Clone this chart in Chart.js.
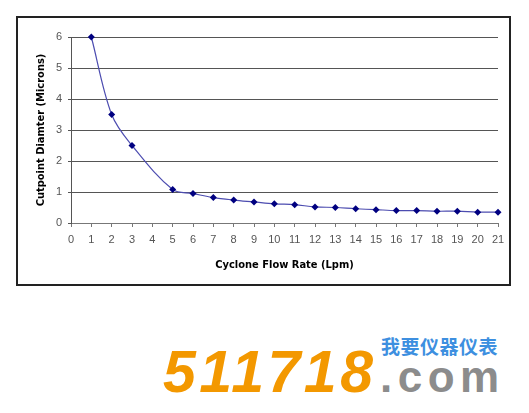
<!DOCTYPE html>
<html>
<head>
<meta charset="utf-8">
<script src="https://cdn.jsdelivr.net/npm/chart.js@4/dist/chart.umd.min.js"></script>
<style>
    html, body { margin: 0; padding: 0; background: #fff; }
    body { width: 529px; height: 413px; position: relative; overflow: hidden; }
    #frame {
        position: absolute; left: 16px; top: 16px;
        width: 491px; height: 266px;
        border: 2px solid #222;
    }
    #chartWrap { position: absolute; left: 0; top: 0; width: 529px; height: 300px; }
    .mark { position: absolute; white-space: nowrap; line-height: 1; }
    #num {
        left: 163px; top: 338px;
        font: italic bold 59px "Liberation Sans", Arial, sans-serif;
        color: #f39800; letter-spacing: 3.5px;
    }
    #dotcom {
        left: 380px; top: 352px;
        font: bold 44px "Liberation Sans", Arial, sans-serif;
        color: #8c8c8c; letter-spacing: 5.5px;
    }
    #cn {
        left: 381px; top: 332px;
        font: bold 19px "Noto Sans CJK SC", sans-serif;
        color: #3d8fe0; letter-spacing: 0.5px;
    }
</style>
</head>
<body>
<div id="frame"></div>
<div id="chartWrap"><canvas id="cutpointChart" width="529" height="300"></canvas></div>
<div class="mark" id="num">511718</div>
<div class="mark" id="cn">我要仪器仪表</div>
<div class="mark" id="dotcom">.com</div>
<script>
    // Flow rate (Lpm) and cutpoint diameter (microns)
    const flowRates = [1, 2, 3, 5, 6, 7, 8, 9, 10, 11, 12, 13, 14, 15, 16, 17, 18, 19, 20, 21];
    const cutpoints = [6, 3.5, 2.5, 1.08, 0.95, 0.82, 0.74, 0.68, 0.62, 0.59, 0.52, 0.5, 0.46, 0.43, 0.4, 0.4, 0.38, 0.38, 0.35, 0.35];

    const xTicks = [0, 21];
    const yTicks = [0, 6];

    const titleFont = { family: "'Liberation Sans Narrow', 'Arial Narrow', 'DejaVu Sans Condensed', sans-serif", size: 11, weight: "bold" };
    const tickFont = { family: "'Liberation Sans', Arial, sans-serif", size: 11 };

    const points = flowRates.map((x, i) => ({ x: x, y: cutpoints[i] }));

    new Chart(document.getElementById("cutpointChart"), {
        type: "line",
        data: {
            datasets: [
                {
                    data: points,
                    borderColor: "#4c4cb0",
                    borderWidth: 1.2,
                    tension: 0.35,
                    clip: false,
                    pointStyle: "rectRot",
                    pointRadius: 3.5,
                    pointBackgroundColor: "#000080",
                    pointBorderColor: "#000080",
                    pointBorderWidth: 0,
                },
            ],
        },
        options: {
            responsive: false,
            animation: false,
            layout: { padding: { left: 0, right: 31, top: 37, bottom: 17 } },
            plugins: {
                legend: { display: false },
                tooltip: { enabled: false },
            },
            scales: {
                x: {
                    type: "linear",
                    min: xTicks[0],
                    max: xTicks[1],
                    afterFit: (scale) => { scale.height = 60; },
                    ticks: { stepSize: 1, color: "#555", font: tickFont, padding: 6, maxRotation: 0, autoSkip: false },
                    grid: { drawOnChartArea: false, drawTicks: true, tickLength: 4, color: "#777" },
                    border: { color: "#777", width: 1 },
                    title: { display: true, text: "Cyclone Flow Rate (Lpm)", color: "#000", font: titleFont, padding: { top: 0, bottom: 11 } },
                },
                y: {
                    min: yTicks[0],
                    max: yTicks[1],
                    afterFit: (scale) => { scale.width = 71; },
                    ticks: { stepSize: 1, color: "#555", font: tickFont, padding: 6 },
                    grid: { color: "#555", lineWidth: 1, tickLength: 3 },
                    border: { color: "#555", width: 1 },
                    title: { display: true, text: "Cutpoint Diamter (Microns)", color: "#000", font: titleFont, padding: { top: 35, bottom: 0 } },
                },
            },
        },
    });
</script>
</body>
</html>
